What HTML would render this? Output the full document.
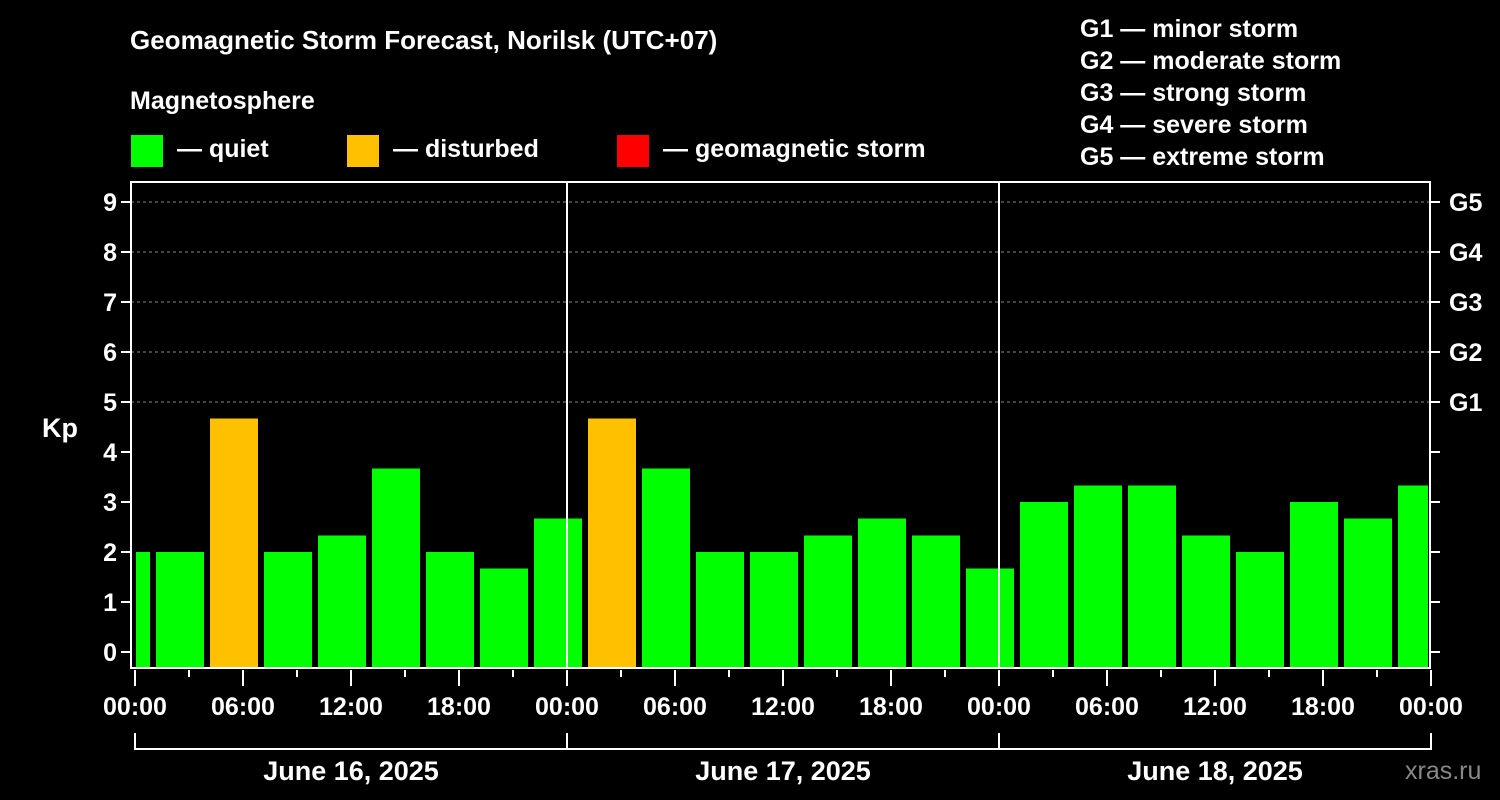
<!DOCTYPE html>
<html><head><meta charset="utf-8"><style>
body{margin:0;background:#000;}
svg{display:block;font-family:"Liberation Sans",Arial,sans-serif;font-weight:bold;}
</style></head><body>
<svg id="chart" width="1500" height="800" viewBox="0 0 1500 800">
<rect width="1500" height="800" fill="#000"/>
<text x="130" y="49" fill="#fff" font-size="26">Geomagnetic Storm Forecast, Norilsk (UTC+07)</text>
<text x="130" y="109" fill="#fff" font-size="25">Magnetosphere</text>
<g><rect x="131" y="135" width="32" height="32" fill="#00ff00"/><text x="177" y="157" fill="#fff" font-size="25">— quiet</text></g>
<g><rect x="347" y="135" width="32" height="32" fill="#ffc000"/><text x="393" y="157" fill="#fff" font-size="25">— disturbed</text></g>
<g><rect x="617" y="135" width="32" height="32" fill="#ff0000"/><text x="663" y="157" fill="#fff" font-size="25">— geomagnetic storm</text></g>
<g fill="#fff" font-size="25">
<text x="1080" y="37">G1 — minor storm</text><text x="1080" y="69">G2 — moderate storm</text><text x="1080" y="101">G3 — strong storm</text><text x="1080" y="133">G4 — severe storm</text><text x="1080" y="165">G5 — extreme storm</text></g>
<text x="42" y="437" fill="#fff" font-size="27">Kp</text>
<text x="1405" y="779" fill="#888" font-size="25" font-weight="normal">xras.ru</text>
<g id="plot"></g>
</svg>
<script>
const kpValues=[2,2,4.67,2,2.33,3.67,2,1.67,2.67,4.67,3.67,2,2,2.33,2.67,2.33,1.67,3,3.33,3.33,2.33,2,3,2.67,3.33];
const yTicks=[0,1,2,3,4,5,6,7,8,9];
const gLabels=["G1","G2","G3","G4","G5"];
const dayLabels=["June 16, 2025","June 17, 2025","June 18, 2025"];
const hourLabels=["00:00","06:00","12:00","18:00"];
const NS="http://www.w3.org/2000/svg";
const g=document.getElementById('plot');
const X0=135,PX_H=18,L=131,R=1430,T=182,B=668;
const xs=h=>X0+h*PX_H;
const ys=v=>652-v*50;
function el(t,a,txt){const e=document.createElementNS(NS,t);for(const k in a)e.setAttribute(k,a[k]);if(txt!=null)e.textContent=txt;g.appendChild(e);return e;}
// gridlines
for(let v=5;v<=9;v++){const e=el('line',{x1:L,x2:R,y1:ys(v),y2:ys(v),stroke:'#888','stroke-dasharray':'3,3','stroke-width':1});

}
// bars: intervals start at 01:00 local, 3h wide; first is 00-01 partial
kpValues.forEach((v,i)=>{
 let h0=i===0?0:1+(i-1)*3, h1=i===0?1:Math.min(1+i*3,72);
 let x1=xs(h0)+(i===0?1:3), x2=xs(h1)-(h1>=72?3:3);
 const c=v>=5?'#ff0000':(v>=4?'#ffc000':'#00ff00');
 const r=el('rect',{x:x1,y:ys(v),width:x2-x1,height:B-ys(v),fill:c});
 
 
});
// day dividers
for(let d=1;d<3;d++){const e=el('line',{x1:xs(d*24),x2:xs(d*24),y1:T,y2:B,stroke:'#fff','stroke-width':2});

}
// frame
const f=el('rect',{x:L,y:T,width:R-L,height:B-T,fill:'none',stroke:'#fff','stroke-width':2});


// y ticks
yTicks.forEach(v=>{
 el('line',{x1:L-10,x2:L,y1:ys(v),y2:ys(v),stroke:'#fff','stroke-width':2});
 el('line',{x1:R,x2:R+10,y1:ys(v),y2:ys(v),stroke:'#fff','stroke-width':2});
 const t=el('text',{x:L-14,y:ys(v)+9,fill:'#fff','font-size':25,'text-anchor':'end'},String(v));
 
 
});
gLabels.forEach((s,i)=>{
 const t=el('text',{x:1449,y:ys(5+i)+9,fill:'#fff','font-size':25},s);
 
 
});
// x ticks
for(let h=0;h<=72;h+=3){
 const major=h%6===0;
 el('line',{x1:xs(h),x2:xs(h),y1:B+2,y2:B+(major?18:9),stroke:'#fff','stroke-width':2});
 if(major){const t=el('text',{x:xs(h),y:715,fill:'#fff','font-size':25,'text-anchor':'middle'},hourLabels[(h/6)%4]);
 
 }
}
// date brackets
dayLabels.forEach((s,d)=>{
 el('path',{d:`M${xs(d*24)} 733 V749 H${xs(d*24+24)} V733`,stroke:'#fff','stroke-width':2,fill:'none'});
 const t=el('text',{x:xs(d*24+12),y:780,fill:'#fff','font-size':27,'text-anchor':'middle'},s);
 
 
});
</script>
</body></html>
